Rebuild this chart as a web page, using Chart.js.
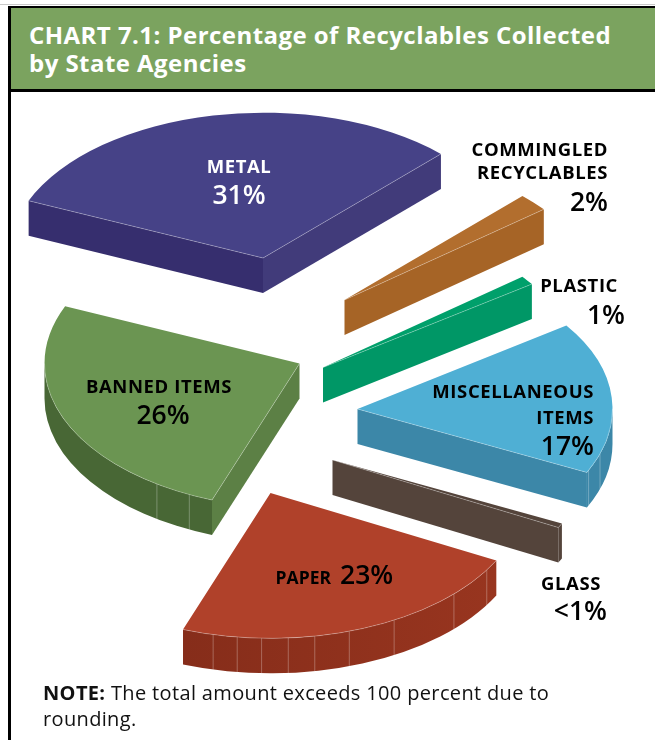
<!DOCTYPE html>
<html>
<head>
<meta charset="utf-8">
<title>Chart 7.1</title>
<script src="https://cdn.jsdelivr.net/npm/chart.js@4"></script>
<style>
    html, body { margin: 0; padding: 0; background: #fff; }
    #page { position: relative; width: 655px; height: 740px; overflow: hidden; font-family: "Open Sans", sans-serif; }
    #topline { position: absolute; left: 0; top: 4px; width: 655px; height: 1px; background: #c9c9c9; }
    #frame { position: absolute; left: 8px; top: 6px; width: 647px; height: 734px; box-sizing: border-box; border-left: 3px solid #000; }
    #header { position: absolute; left: 8px; top: 6px; width: 647px; height: 86px; box-sizing: border-box;
        background: #7ba35f; border-left: 3px solid #000; border-top: 2px solid #000; border-bottom: 3px solid #000; }
    #header h1 { margin: 0; position: absolute; left: 18px; top: 13px; color: #fff; font-size: 24px; line-height: 28px; font-weight: 700; letter-spacing: 0.45px; white-space: nowrap; }
    #note { position: absolute; left: 43px; top: 680px; font-size: 20px; line-height: 26px; color: #111; letter-spacing: 0.35px; white-space: nowrap; }
</style>
</head>
<body>
<div id="page">
    <div id="topline"></div>
    <div id="frame"></div>
    <div id="header"><h1>CHART 7.1: Percentage of Recyclables Collected<br>by State Agencies</h1></div>
    <canvas id="pie3d" width="655" height="740" style="position:absolute;left:0;top:0"></canvas>
    <div id="note"><b>NOTE:</b> The total amount exceeds 100 percent due to<br>rounding.</div>
</div>
<script>
const categories = ['Metal', 'Commingled Recyclables', 'Plastic', 'Miscellaneous Items', 'Glass', 'Paper', 'Banned Items'];
const percentages = [31, 2, 1, 17, 0.5, 23, 26];
const percentLabels = ['31%', '2%', '1%', '17%', '<1%', '23%', '26%'];
const nameLines = [['METAL'], ['COMMINGLED', 'RECYCLABLES'], ['PLASTIC'], ['MISCELLANEOUS', 'ITEMS'], ['GLASS'], ['PAPER'], ['BANNED ITEMS']];

const topColors = ['#464287', '#b26e2e', '#00a06b', '#4fafd4', '#54443b', '#b0412a', '#6b9552'];
const startWallColors = ['#362e6e', '#a66426', '#009766', '#3c87a8', '#54443b', '#95331f', '#5c8045'];
const endWallColors = ['#413b7a', '#a66426', '#009766', '#3c87a8', '#54443b', '#95331f', '#5c8045'];
const arcWallLeft = ['#362e6e', '#a66426', '#009766', '#3c87a8', '#54443b', '#862d1a', '#486735'];
const arcWallRight = ['#362e6e', '#a66426', '#009766', '#3c87a8', '#54443b', '#98351f', '#486735'];

// how far each wedge is pulled away from the pie centre
const explode = [[-64.5, -112], [17, -70], [-4.5, -2.5], [30, 39], [5, 90], [-57, 123], [-28, -6.5]];
// vertical seams on the curved walls, degrees on the canvas circle
const wallSeams = [[], [], [], [18, 25], [], [32, 44, 61, 72, 80, 86, 92, 97.5, 103], [115.6, 124]];

// where the text of each wedge sits: x, first baseline, alignment
const labelSpots = [
    { x: 239, y: 172.5, align: 'center', gap: 31.5 },
    { x: 608, y: 156, align: 'right', gap: 32, lineGap: 23 },
    { x: 618, y: 291.5, align: 'right', gap: 32.5, pctX: 625 },
    { x: 594, y: 398, align: 'right', gap: 31, lineGap: 26 },
    { x: 601, y: 590, align: 'right', gap: 30, pctX: 607 },
    { x: 331, y: 584, align: 'right', inline: true, pctX: 340, nameSize: 17.5 },
    { x: 159, y: 392.5, align: 'center', gap: 31.5, pctX: 163 }
];
const darkText = [false, true, true, true, true, true, true];

const SQUASH = 0.57;
const DEPTH = 35;
const PIE_RADIUS = 255;

const pie3d = {
    id: 'pie3d',
    beforeDatasetsDraw(chart) {
        const ctx = chart.ctx;
        const arcs = chart.getDatasetMeta(0).data;

        arcs.forEach((arc, i) => {
            const ax = arc.x + explode[i][0];
            const ay = arc.y + explode[i][1];
            const r = arc.outerRadius;
            const at = a => [ax + r * Math.cos(a), ay + SQUASH * r * Math.sin(a)];

            // cut walls, only the ones turned towards the viewer
            if (Math.cos(arc.startAngle) < 0) {
                wall(ctx, [ax, ay], at(arc.startAngle), startWallColors[i]);
            }
            if (Math.cos(arc.endAngle) > 0) {
                wall(ctx, [ax, ay], at(arc.endAngle), endWallColors[i]);
            }

            // curved wall, front half of the circle only
            const [from, to] = frontSpan(arc.startAngle, arc.endAngle);
            if (to > from) {
                const left = at(to)[0];
                const right = at(from)[0];
                const grad = ctx.createLinearGradient(left, 0, right, 0);
                grad.addColorStop(0, arcWallLeft[i]);
                grad.addColorStop(1, arcWallRight[i]);
                ctx.beginPath();
                ctx.ellipse(ax, ay, r, SQUASH * r, 0, from, to);
                ctx.ellipse(ax, ay + DEPTH, r, SQUASH * r, 0, to, from, true);
                ctx.closePath();
                ctx.fillStyle = grad;
                ctx.fill();

                ctx.strokeStyle = 'rgba(255,255,255,0.28)';
                ctx.lineWidth = 1;
                wallSeams[i].forEach(deg => {
                    const p = at(deg * Math.PI / 180);
                    ctx.beginPath();
                    ctx.moveTo(p[0], p[1]);
                    ctx.lineTo(p[0], p[1] + DEPTH);
                    ctx.stroke();
                });
            }

            // top face comes from the arc element itself
            ctx.save();
            ctx.translate(ax, ay);
            ctx.scale(1, SQUASH);
            ctx.translate(-arc.x, -arc.y);
            arc.draw(ctx);
            ctx.restore();

            // pale line along the front edges of the top face
            ctx.strokeStyle = 'rgba(255,255,255,0.35)';
            ctx.lineWidth = 0.8;
            if (Math.cos(arc.startAngle) < 0) edge(ctx, [ax, ay], at(arc.startAngle));
            if (Math.cos(arc.endAngle) > 0) edge(ctx, [ax, ay], at(arc.endAngle));
            if (to > from) {
                ctx.beginPath();
                ctx.ellipse(ax, ay, r, SQUASH * r, 0, from, to);
                ctx.stroke();
            }
        });

        drawLabels(ctx);
        return false;
    }
};

// part of an arc lying on the lower half of the circle (0..PI), wrapping past 2PI if needed
function frontSpan(start, end) {
    const t = Math.PI * 2;
    let s = ((start % t) + t) % t;
    let e = s + (end - start);
    if (e > t) {
        s = 0;
        e = e - t;
    }
    return [Math.max(s, 0), Math.min(e, Math.PI)];
}

function wall(ctx, p, q, color) {
    ctx.beginPath();
    ctx.moveTo(p[0], p[1]);
    ctx.lineTo(q[0], q[1]);
    ctx.lineTo(q[0], q[1] + DEPTH);
    ctx.lineTo(p[0], p[1] + DEPTH);
    ctx.closePath();
    ctx.fillStyle = color;
    ctx.fill();
}

function edge(ctx, p, q) {
    ctx.beginPath();
    ctx.moveTo(p[0], p[1]);
    ctx.lineTo(q[0], q[1]);
    ctx.stroke();
}

function drawLabels(ctx) {
    categories.forEach((name, i) => {
        const spot = labelSpots[i];
        const lines = nameLines[i];
        ctx.fillStyle = darkText[i] ? '#000' : '#fff';
        ctx.textAlign = spot.align;
        ctx.textBaseline = 'alphabetic';
        ctx.letterSpacing = spot.nameSize ? '0px' : '0.6px';
        ctx.font = 'bold ' + (spot.nameSize || 18.5) + 'px "Open Sans"';
        lines.forEach((line, k) => ctx.fillText(line, spot.x, spot.y + k * (spot.lineGap || 0)));

        const lastY = spot.y + (lines.length - 1) * (spot.lineGap || 0);
        ctx.letterSpacing = '0px';
        ctx.font = '600 26.5px "Open Sans"';
        if (spot.inline) {
            ctx.textAlign = 'left';
            ctx.fillText(percentLabels[i], spot.pctX, lastY);
        } else {
            ctx.fillText(percentLabels[i], spot.pctX || spot.x, lastY + spot.gap);
        }
    });
}

new Chart(document.getElementById('pie3d').getContext('2d'), {
    type: 'pie',
    data: {
        labels: categories,
        datasets: [{
            data: percentages,
            backgroundColor: topColors,
            borderWidth: 0
        }]
    },
    options: {
        responsive: false,
        animation: false,
        rotation: -66.8,
        radius: PIE_RADIUS,
        plugins: { legend: { display: false }, tooltip: { enabled: false } }
    },
    plugins: [pie3d]
});
</script>
</body>
</html>
